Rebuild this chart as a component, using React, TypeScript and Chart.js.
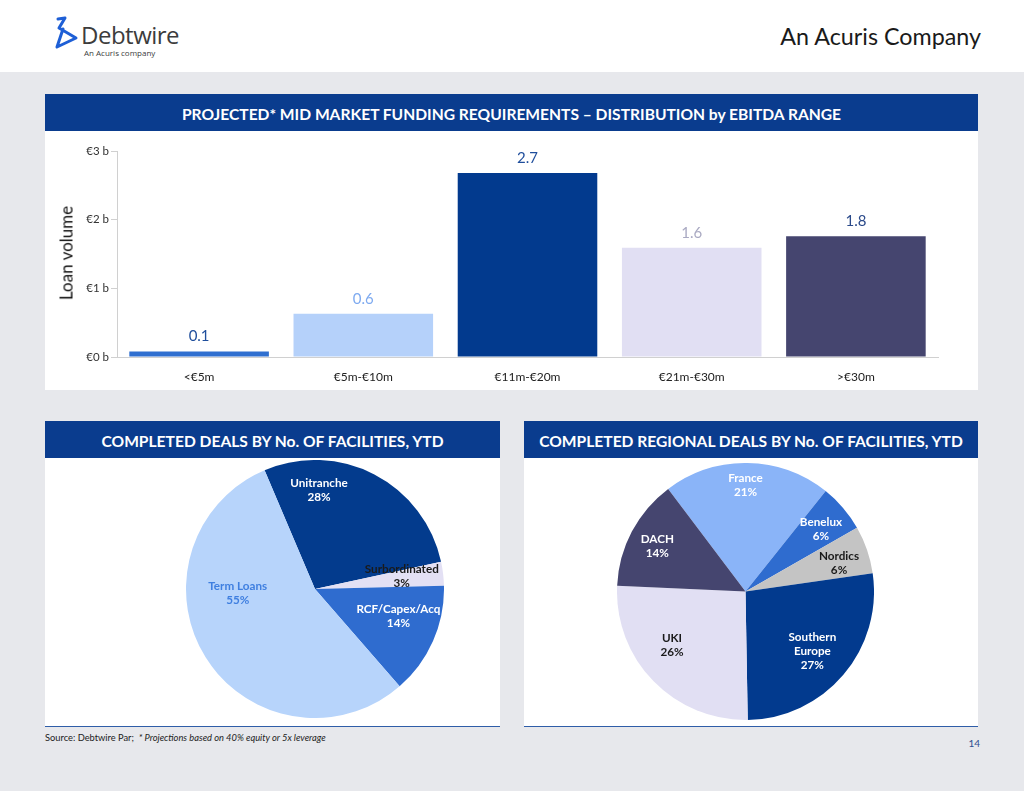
import React, { useEffect, useRef } from "react";
import { Chart, registerables } from "chart.js";

Chart.register(...registerables);

// ---------- DATA ----------
const ebitdaRanges = ["<€5m", "€5m-€10m", "€11m-€20m", "€21m-€30m", ">€30m"];
const loanVolumes = [0.08, 0.63, 2.68, 1.59, 1.76]; // € billions
const yTickMax = 3;

const facilityTypes = ["Unitranche", "Surbordinated", "RCF/Capex/Acq", "Term Loans"];
const facilityShares = [28, 3, 14, 55];

const regions = ["France", "Benelux", "Nordics", "Southern Europe", "UKI", "DACH"];
const regionShares = [21, 6, 6, 27, 26, 14];

// ---------- STYLES ----------
const FONT = "Lato, 'Open Sans', sans-serif";
const barColors = ["#2F6FD0", "#B5D1FA", "#023A8E", "#E1DFF3", "#45456F"];
const barLabelColors = ["#1F4E9C", "#7EAAF0", "#1F4E9C", "#A9A9C2", "#2B4A8A"];

const facilityColors = ["#033B8D", "#E3E0F4", "#2F6CCF", "#B7D4FB"];
const facilityTextColors = ["#FFFFFF", "#1A1A1A", "#FFFFFF", "#3F7FE0"];
// label anchor: [angle clockwise from top in degrees, fraction of radius]
const facilityAnchors: [number, number][] = [[2.3, 0.77], [81.5, 0.68], [108, 0.68], [267, 0.6]];

const regionColors = ["#8AB4F8", "#2F6CCF", "#C4C4C4", "#023A8E", "#E1DFF3", "#45456F"];
const regionTextColors = ["#FFFFFF", "#FFFFFF", "#1A1A1A", "#FFFFFF", "#1A1A1A", "#FFFFFF"];
const regionAnchors: [number, number][] = [[0, 0.83], [50.6, 0.76], [73.3, 0.76], [132, 0.7], [233.7, 0.71], [297, 0.77]];

const barValuePlugin = {
  id: "barValues",
  afterDatasetsDraw(chart: any) {
    const meta = chart.getDatasetMeta(0);
    const ctx = chart.ctx;
    ctx.save();
    ctx.font = `15px ${FONT}`;
    ctx.textAlign = "center";
    ctx.textBaseline = "middle";
    meta.data.forEach((el: any, i: number) => {
      ctx.fillStyle = barLabelColors[i];
      ctx.fillText(loanVolumes[i].toFixed(1), el.x, el.y - 15);
    });
    ctx.restore();
  },
};

function makePieLabelPlugin(lines: string[][], colors: string[], anchors: [number, number][]) {
  return {
    id: "pieLabels",
    afterDatasetsDraw(chart: any) {
      const meta = chart.getDatasetMeta(0);
      const arc0 = meta.data[0];
      const cx = arc0.x;
      const cy = arc0.y;
      const r = arc0.outerRadius;
      const ctx = chart.ctx;
      ctx.save();
      ctx.font = `bold 11.7px ${FONT}`;
      ctx.textAlign = "center";
      ctx.textBaseline = "middle";
      lines.forEach((ls, i) => {
        const [deg, frac] = anchors[i];
        const a = (deg * Math.PI) / 180;
        const x = cx + frac * r * Math.sin(a);
        const y = cy - frac * r * Math.cos(a);
        ctx.fillStyle = colors[i];
        ls.forEach((t, j) => ctx.fillText(t, x, y + (j - (ls.length - 1) / 2) * 14));
      });
      ctx.restore();
    },
  };
}

function BarChart() {
  const ref = useRef<HTMLCanvasElement>(null);
  useEffect(() => {
    const chart = new Chart(ref.current as HTMLCanvasElement, {
      type: "bar",
      data: {
        labels: ebitdaRanges,
        datasets: [
          {
            data: loanVolumes,
            backgroundColor: barColors,
            barPercentage: 0.85,
            categoryPercentage: 1,
          },
        ],
      },
      options: {
        animation: false,
        responsive: false,
        maintainAspectRatio: false,
        layout: { padding: { top: 20, right: 40, left: 0, bottom: 0 } },
        plugins: { legend: { display: false }, tooltip: { enabled: false } },
        scales: {
          x: {
            grid: { display: false },
            border: { color: "#D0D0D0" },
            ticks: { padding: 5, color: "#222", font: { family: FONT, size: 12 } },
            afterFit: (s: any) => {
              s.height = 33;
            },
          },
          y: {
            min: 0,
            max: yTickMax,
            ticks: {
              stepSize: 1,
              callback: (v: any) => `€${v} b`,
              padding: 2,
              color: "#333",
              font: { family: FONT, size: 11.5 },
            },
            grid: { drawOnChartArea: false, tickLength: 6, color: "#D0D0D0" },
            border: { color: "#D0D0D0" },
            afterFit: (s: any) => {
              s.width = 72;
            },
          },
        },
      } as any,
      plugins: [barValuePlugin],
    });
    return () => chart.destroy();
  }, []);
  return (
    <canvas
      ref={ref}
      width={933}
      height={259}
      style={{ position: "absolute", left: 45, top: 131, width: 933, height: 259 }}
    />
  );
}

function PieChart(props: {
  labels: string[];
  values: number[];
  colors: string[];
  textColors: string[];
  anchors: [number, number][];
  rotation: number;
  left: number;
  top: number;
  size: number;
}) {
  const ref = useRef<HTMLCanvasElement>(null);
  useEffect(() => {
    const lines = props.labels.map((l, i) => [...l.replace("Southern Europe", "Southern\nEurope").split("\n"), `${props.values[i]}%`]);
    const chart = new Chart(ref.current as HTMLCanvasElement, {
      type: "pie",
      data: {
        labels: props.labels,
        datasets: [{ data: props.values, backgroundColor: props.colors, borderWidth: 0 }],
      },
      options: {
        animation: false,
        responsive: false,
        maintainAspectRatio: false,
        rotation: props.rotation,
        layout: { padding: 0 },
        plugins: { legend: { display: false }, tooltip: { enabled: false } },
      } as any,
      plugins: [makePieLabelPlugin(lines, props.textColors, props.anchors)],
    });
    return () => chart.destroy();
  }, []);
  return (
    <canvas
      ref={ref}
      width={props.size}
      height={props.size}
      style={{ position: "absolute", left: props.left, top: props.top, width: props.size, height: props.size }}
    />
  );
}

const headerStyle = (left: number, top: number, width: number): React.CSSProperties => ({
  position: "absolute",
  left,
  top,
  width,
  height: 37,
  background: "#0A3C8E",
  color: "#FFFFFF",
  fontWeight: 700,
  fontSize: 15.6,
  lineHeight: "40px",
  textAlign: "center",
  whiteSpace: "nowrap",
  overflow: "hidden",
});

export default function App() {
  return (
    <div
      style={{
        position: "fixed",
        left: 0,
        top: 0,
        width: 1024,
        height: 791,
        background: "#E7E8EC",
        fontFamily: FONT,
        overflow: "hidden",
      }}
    >
      {/* top white header */}
      <div style={{ position: "absolute", left: 0, top: 0, width: 1024, height: 72, background: "#FFFFFF" }} />
      <svg style={{ position: "absolute", left: 52, top: 16 }} width={30} height={34} viewBox="0 0 30 34">
        <path d="M6 3 L13 2 L7 12 L24 22 L5 31 L11 13" fill="none" stroke="#1E5FD6" strokeWidth={3} strokeLinejoin="round" strokeLinecap="round" />
      </svg>
      <div style={{ position: "absolute", left: 81, top: 18, fontSize: 24, color: "#3C3C3C", fontFamily: "'Open Sans', sans-serif", letterSpacing: -0.5 }}>
        Debtwire
      </div>
      <div style={{ position: "absolute", left: 84, top: 47, fontSize: 8, color: "#3C3C3C", fontFamily: "'Open Sans', sans-serif" }}>
        An Acuris company
      </div>
      <div style={{ position: "absolute", right: 43, top: 22, fontSize: 23.3, color: "#1A1A1A", fontWeight: 400 }}>An Acuris Company</div>

      {/* top panel */}
      <div style={headerStyle(45, 94, 933)}>PROJECTED* MID MARKET FUNDING REQUIREMENTS – DISTRIBUTION by EBITDA RANGE</div>
      <div style={{ position: "absolute", left: 45, top: 131, width: 933, height: 259, background: "#FFFFFF" }} />
      <BarChart />
      <div
        style={{
          position: "absolute",
          left: 66,
          top: 253,
          transform: "translate(-50%, -50%) rotate(-90deg)",
          fontSize: 17,
          fontWeight: 400,
          color: "#111",
          whiteSpace: "nowrap",
        }}
      >
        Loan volume
      </div>

      {/* bottom left panel */}
      <div style={headerStyle(45, 421, 455)}>COMPLETED DEALS BY No. OF FACILITIES, YTD</div>
      <div style={{ position: "absolute", left: 45, top: 458, width: 455, height: 268, background: "#FFFFFF", borderBottom: "1px solid #2E5DA8" }} />
      <PieChart
        labels={facilityTypes}
        values={facilityShares}
        colors={facilityColors}
        textColors={facilityTextColors}
        anchors={facilityAnchors}
        rotation={-23}
        left={186}
        top={460}
        size={258}
      />

      {/* bottom right panel */}
      <div style={headerStyle(524, 421, 454)}>COMPLETED REGIONAL DEALS BY No. OF FACILITIES, YTD</div>
      <div style={{ position: "absolute", left: 524, top: 458, width: 454, height: 268, background: "#FFFFFF", borderBottom: "1px solid #2E5DA8" }} />
      <PieChart
        labels={regions}
        values={regionShares}
        colors={regionColors}
        textColors={regionTextColors}
        anchors={regionAnchors}
        rotation={-37}
        left={617}
        top={463}
        size={257}
      />

      {/* footer */}
      <div style={{ position: "absolute", left: 45, top: 732, fontSize: 9.3, color: "#222", whiteSpace: "nowrap" }}>
        Source: Debtwire Par;&nbsp;&nbsp;<i>* Projections based on 40% equity or 5x leverage</i>
      </div>
      <div style={{ position: "absolute", right: 44, top: 737, fontSize: 10, color: "#2E4F8F" }}>14</div>
    </div>
  );
}
